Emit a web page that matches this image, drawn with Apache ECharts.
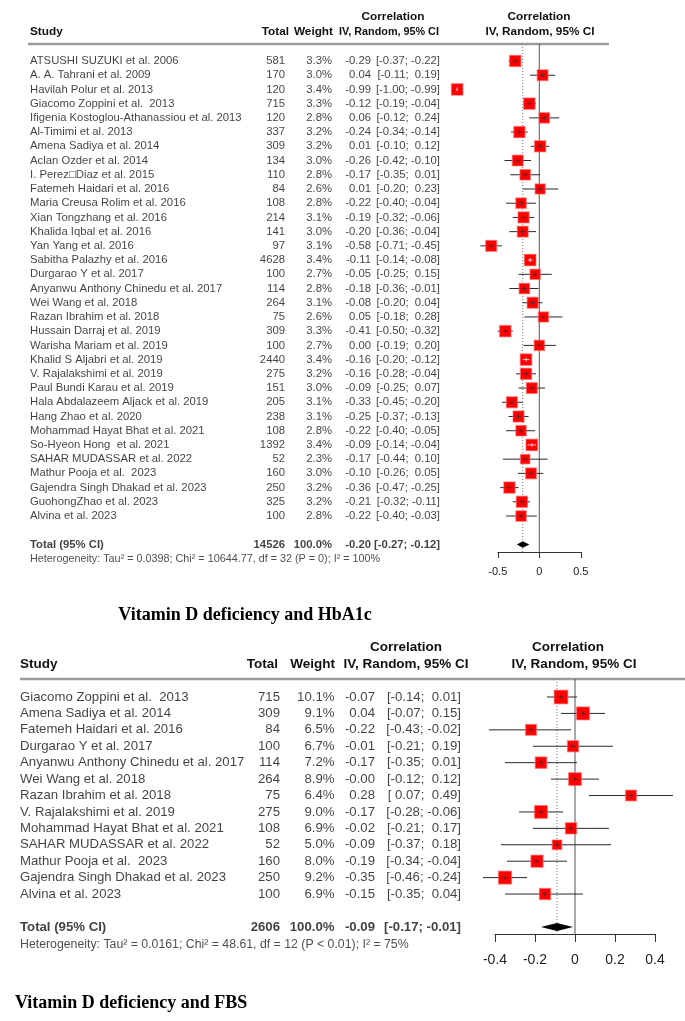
<!DOCTYPE html>
<html><head><meta charset="utf-8">
<script src="https://cdn.jsdelivr.net/npm/echarts@6/dist/echarts.min.js"></script>
<style>html,body{margin:0;padding:0;background:#fff}#c{width:685px;height:1021px}</style>
</head><body><div id="c"></div>
<script>
// ---------- Panel 1 data (Vitamin D deficiency and HbA1c) ----------
const hbStudies = ['ATSUSHI SUZUKI et al. 2006','A. A. Tahrani et al. 2009','Havilah Polur et al. 2013','Giacomo Zoppini et al.  2013','Ifigenia Kostoglou-Athanassiou et al. 2013','Al-Timimi et al. 2013','Amena Sadiya et al. 2014','Aclan Ozder et al. 2014','I. Perez\u25A1Diaz et al. 2015','Fatemeh Haidari et al. 2016','Maria Creusa Rolim et al. 2016','Xian Tongzhang et al. 2016','Khalida Iqbal et al. 2016','Yan Yang et al. 2016','Sabitha Palazhy et al. 2016','Durgarao Y et al. 2017','Anyanwu Anthony Chinedu et al. 2017','Wei Wang et al. 2018','Razan Ibrahim et al. 2018','Hussain Darraj et al. 2019','Warisha Mariam et al. 2019','Khalid S Aljabri et al. 2019','V. Rajalakshimi et al. 2019','Paul Bundi Karau et al. 2019','Hala Abdalazeem Aljack et al. 2019','Hang Zhao et al. 2020','Mohammad Hayat Bhat et al. 2021','So-Hyeon Hong  et al. 2021','SAHAR MUDASSAR et al. 2022','Mathur Pooja et al.  2023','Gajendra Singh Dhakad et al. 2023','GuohongZhao et al. 2023','Alvina et al. 2023'];
const hbTotal  = [581,170,120,715,120,337,309,134,110,84,108,214,141,97,4628,100,114,264,75,309,100,2440,275,151,205,238,108,1392,52,160,250,325,100];
const hbWeight = [3.3,3.0,3.4,3.3,2.8,3.2,3.2,3.0,2.8,2.6,2.8,3.1,3.0,3.1,3.4,2.7,2.8,3.1,2.6,3.3,2.7,3.4,3.2,3.0,3.1,3.1,2.8,3.4,2.3,3.0,3.2,3.2,2.8];
const hbEst    = [-0.29,0.04,-0.99,-0.12,0.06,-0.24,0.01,-0.26,-0.17,0.01,-0.22,-0.19,-0.20,-0.58,-0.11,-0.05,-0.18,-0.08,0.05,-0.41,0.00,-0.16,-0.16,-0.09,-0.33,-0.25,-0.22,-0.09,-0.17,-0.10,-0.36,-0.21,-0.22];
const hbLower  = [-0.37,-0.11,-1.00,-0.19,-0.12,-0.34,-0.10,-0.42,-0.35,-0.20,-0.40,-0.32,-0.36,-0.71,-0.14,-0.25,-0.36,-0.20,-0.18,-0.50,-0.19,-0.20,-0.28,-0.25,-0.45,-0.37,-0.40,-0.14,-0.44,-0.26,-0.47,-0.32,-0.40];
const hbUpper  = [-0.22,0.19,-0.99,-0.04,0.24,-0.14,0.12,-0.10,0.01,0.23,-0.04,-0.06,-0.04,-0.45,-0.08,0.15,-0.01,0.04,0.28,-0.32,0.20,-0.12,-0.04,0.07,-0.20,-0.13,-0.05,-0.04,0.10,0.05,-0.25,-0.11,-0.03];
const hbPooled = [-0.20,-0.27,-0.12];   // estimate, lower, upper
const hbPooledTotal = 14526;
const hbHetText = 'Heterogeneity: Tau\u00B2 = 0.0398; Chi\u00B2 = 10644.77, df = 32 (P = 0); I\u00B2 = 100%';
const hbTicks = [-0.5, 0, 0.5];
const hbCaption = 'Vitamin D deficiency and HbA1c';

// ---------- Panel 2 data (Vitamin D deficiency and FBS) ----------
const fbStudies = ['Giacomo Zoppini et al.  2013','Amena Sadiya et al. 2014','Fatemeh Haidari et al. 2016','Durgarao Y et al. 2017','Anyanwu Anthony Chinedu et al. 2017','Wei Wang et al. 2018','Razan Ibrahim et al. 2018','V. Rajalakshimi et al. 2019','Mohammad Hayat Bhat et al. 2021','SAHAR MUDASSAR et al. 2022','Mathur Pooja et al.  2023','Gajendra Singh Dhakad et al. 2023','Alvina et al. 2023'];
const fbTotal  = [715,309,84,100,114,264,75,275,108,52,160,250,100];
const fbWeight = [10.1,9.1,6.5,6.7,7.2,8.9,6.4,9.0,6.9,5.0,8.0,9.2,6.9];
const fbEst    = [-0.07,0.04,-0.22,-0.01,-0.17,-0.00,0.28,-0.17,-0.02,-0.09,-0.19,-0.35,-0.15];
const fbLower  = [-0.14,-0.07,-0.43,-0.21,-0.35,-0.12,0.07,-0.28,-0.21,-0.37,-0.34,-0.46,-0.35];
const fbUpper  = [0.01,0.15,-0.02,0.19,0.01,0.12,0.49,-0.06,0.17,0.18,-0.04,-0.24,0.04];
const fbPooled = [-0.09,-0.17,-0.01];
const fbPooledTotal = 2606;
const fbHetText = 'Heterogeneity: Tau\u00B2 = 0.0161; Chi\u00B2 = 48.61, df = 12 (P < 0.01); I\u00B2 = 75%';
const fbTicks = [-0.4, -0.2, 0, 0.2, 0.4];
const fbCaption = 'Vitamin D deficiency and FBS';

// ---------- helpers ----------
const SANS = '"Liberation Sans", Arial, sans-serif';
const SERIF = '"Liberation Serif", "Times New Roman", serif';
function f2(v){ return ((v < 0 || Object.is(v, -0)) ? '-' : '') + Math.abs(v).toFixed(2); }
function pad(v){ return ((v < 0 || Object.is(v, -0)) ? '' : ' ') + f2(v); }
function ciText(lo, hi){ return '[' + pad(lo) + '; ' + pad(hi) + ']'; }

// layout of the two panels
const L = [
  { y0: 61, dy: 14.22, top: 44, bottom: 552, plotLeft: 497.8, plotWidth: 83, lineLeft: 28, lineRight: 609,
    cStudy: 30, cTotal: 285, cWeight: 332, cEst: 371, cCI: 440, fs: 11.3, hfs: 11.8, midFs: 10.8, hetFs: 10.8, totalRow: 34, hetRow: 35,
    boxK: 6.3, diamondH: 3.2, tickLen: 6, tickFs: 11, tickMargin: 14,
    hdr: { y1: 17, y2: 32, total: 289, weight: 333, mid1: 393, mid2: 389, right1: 539, right2: 540 } },
  { y0: 697, dy: 16.42, top: 679, bottom: 934, plotLeft: 495, plotWidth: 160, lineLeft: 20, lineRight: 685,
    cStudy: 20, cTotal: 280, cWeight: 334.5, cEst: 375, cCI: 461, fs: 13.2, hfs: 13.5, midFs: 13.5, hetFs: 12.3, totalRow: 14, hetRow: 15.05,
    boxK: 4.3, diamondH: 4, tickLen: 8, tickFs: 14, tickMargin: 19,
    hdr: { y1: 647, y2: 664, total: 278, weight: 335, mid1: 406, mid2: 406, right1: 568, right2: 574 } }
];
L.forEach(p => { p.yMin = (p.top - p.y0) / p.dy; p.yMax = (p.bottom - p.y0) / p.dy; });

const panels = [
  { studies: hbStudies, total: hbTotal, weight: hbWeight, est: hbEst, lo: hbLower, hi: hbUpper, pooled: hbPooled, pooledTotal: hbPooledTotal, het: hbHetText, ticks: hbTicks },
  { studies: fbStudies, total: fbTotal, weight: fbWeight, est: fbEst, lo: fbLower, hi: fbUpper, pooled: fbPooled, pooledTotal: fbPooledTotal, het: fbHetText, ticks: fbTicks }
];

const grid = [], xAxis = [], yAxis = [], series = [], graphic = [];

function textSeries(ai, items, style) {
  return {
    type: 'scatter', xAxisIndex: ai, yAxisIndex: ai, symbolSize: 0.1, silent: true, clip: false, z: 5,
    itemStyle: { color: 'transparent' },
    data: items.map(d => ({ name: d[2], value: [d[0], d[1]] })),
    label: Object.assign({ show: true, position: 'inside', formatter: '{b}', verticalAlign: 'middle', color: '#111', fontFamily: SANS }, style)
  };
}

function forestRender(k) {
  return function (params, api) {
    const est = api.value(0), lo = api.value(1), hi = api.value(2), row = api.value(3), w = api.value(4);
    const c = api.coord([est, row]), a = api.coord([lo, row]), b = api.coord([hi, row]);
    const s = k * Math.sqrt(w);
    const inside = (b[0] - a[0]) < s;
    const ch = [];
    if (!inside) ch.push({ type: 'line', shape: { x1: a[0], y1: c[1], x2: b[0], y2: c[1] }, style: { stroke: '#2a2a2a', lineWidth: 1 } });
    ch.push({ type: 'rect', shape: { x: c[0] - s / 2, y: c[1] - s / 2, width: s, height: s }, style: { fill: '#ff0000', stroke: 'rgba(255,110,110,0.55)', lineWidth: 1.2 } });
    const mc = inside ? '#ffffff' : '#333';
    const hx1 = inside ? a[0] : c[0] - 2.5, hx2 = inside ? b[0] : c[0] + 2.5;
    ch.push({ type: 'line', shape: { x1: hx1, y1: c[1], x2: hx2, y2: c[1] }, style: { stroke: mc, lineWidth: 0.8 } });
    ch.push({ type: 'line', shape: { x1: c[0], y1: c[1] - 2, x2: c[0], y2: c[1] + 2 }, style: { stroke: mc, lineWidth: 0.8 } });
    return { type: 'group', children: ch };
  };
}

panels.forEach((P, pi) => {
  const p = L[pi];
  const ti = pi * 2, fi = pi * 2 + 1;   // text grid index, forest grid index
  grid.push({ left: 0, width: 685, top: p.top, height: p.bottom - p.top });
  xAxis.push({ type: 'value', gridIndex: ti, min: 0, max: 685, show: false });
  yAxis.push({ type: 'value', gridIndex: ti, min: p.yMin, max: p.yMax, inverse: true, show: false });
  grid.push({ left: p.plotLeft, width: p.plotWidth, top: p.top, height: p.bottom - p.top });
  xAxis.push({ type: 'value', gridIndex: fi, min: P.ticks[0], max: P.ticks[P.ticks.length - 1], interval: P.ticks[1] - P.ticks[0],
    axisLine: { show: true, onZero: false, lineStyle: { color: '#333', width: 1 } },
    axisTick: { show: true, inside: false, length: p.tickLen, lineStyle: { color: '#333', width: 1 } },
    axisLabel: { show: true, margin: p.tickMargin, fontSize: p.tickFs, color: '#222', fontFamily: SANS },
    splitLine: { show: false } });
  yAxis.push({ type: 'value', gridIndex: fi, min: p.yMin, max: p.yMax, inverse: true, show: false });

  const rows = P.studies.map((s, i) => i);
  series.push(textSeries(ti, rows.map(i => [p.cStudy, i, P.studies[i]]), { align: 'left', fontSize: p.fs }));
  series.push(textSeries(ti, rows.map(i => [p.cTotal, i, String(P.total[i])]), { align: 'right', fontSize: p.fs }));
  series.push(textSeries(ti, rows.map(i => [p.cWeight, i, P.weight[i].toFixed(1) + '%']), { align: 'right', fontSize: p.fs }));
  series.push(textSeries(ti, rows.map(i => [p.cEst, i, f2(P.est[i])]), { align: 'right', fontSize: p.fs }));
  series.push(textSeries(ti, rows.map(i => [p.cCI, i, ciText(P.lo[i], P.hi[i])]), { align: 'right', fontSize: p.fs }));
  const tr = p.totalRow;
  series.push(textSeries(ti, [[p.cStudy, tr, 'Total (95% CI)']], { align: 'left', fontSize: p.fs, fontWeight: 'bold' }));
  series.push(textSeries(ti, [[p.cTotal, tr, String(P.pooledTotal)], [p.cWeight, tr, '100.0%'], [p.cEst, tr, f2(P.pooled[0])], [p.cCI, tr, ciText(P.pooled[1], P.pooled[2])]], { align: 'right', fontSize: p.fs, fontWeight: 'bold' }));
  series.push(textSeries(ti, [[p.cStudy, p.hetRow, P.het]], { align: 'left', fontSize: p.hetFs, color: '#222' }));

  series.push({ type: 'line', xAxisIndex: fi, yAxisIndex: fi, symbol: 'none', silent: true, z: 1,
    data: [[0, p.yMin], [0, p.yMax]], lineStyle: { color: '#555', width: 1 } });
  series.push({ type: 'line', xAxisIndex: fi, yAxisIndex: fi, symbol: 'none', silent: true, z: 1,
    data: [[P.pooled[0], p.yMin], [P.pooled[0], p.yMax]], lineStyle: { color: '#777', width: 1, type: [1, 2] } });
  series.push({ type: 'custom', xAxisIndex: fi, yAxisIndex: fi, clip: false, silent: true, z: 3,
    renderItem: forestRender(p.boxK),
    encode: { x: [0, 1, 2], y: 3 },
    data: rows.map(i => [P.est[i], P.lo[i], P.hi[i], i, P.weight[i]]) });
  const dh = p.diamondH;
  series.push({ type: 'custom', xAxisIndex: fi, yAxisIndex: fi, clip: false, silent: true, z: 3,
    encode: { x: [0, 1, 2], y: 3 },
    renderItem: function (params, api) {
      const c = api.coord([api.value(0), api.value(3)]), a = api.coord([api.value(1), api.value(3)]), b = api.coord([api.value(2), api.value(3)]);
      return { type: 'polygon', shape: { points: [[a[0], c[1]], [c[0], c[1] - dh], [b[0], c[1]], [c[0], c[1] + dh]] }, style: { fill: '#000' } };
    },
    data: [[P.pooled[0], P.pooled[1], P.pooled[2], tr]] });

  const h = p.hdr;
  const hs = (t, x, y, align, fs) => ({ type: 'text', x: x, y: y, silent: true,
    style: { text: t, align: align, verticalAlign: 'middle', font: 'bold ' + (fs || p.hfs) + 'px ' + SANS, fill: '#111' } });
  graphic.push(hs('Study', p.cStudy, h.y2, 'left'));
  graphic.push(hs('Total', h.total, h.y2, 'right'));
  graphic.push(hs('Weight', h.weight, h.y2, 'right'));
  graphic.push(hs('Correlation', h.mid1, h.y1, 'center'));
  graphic.push(hs('IV, Random, 95% CI', h.mid2, h.y2, 'center', p.midFs));
  graphic.push(hs('Correlation', h.right1, h.y1, 'center'));
  graphic.push(hs('IV, Random, 95% CI', h.right2, h.y2, 'center'));
  graphic.push({ type: 'line', silent: true, shape: { x1: p.lineLeft, y1: p.top, x2: p.lineRight, y2: p.top },
    style: { stroke: '#9c9c9c', lineWidth: 2.5 } });
});

graphic.push({ type: 'text', x: 245, y: 615, silent: true,
  style: { text: hbCaption, align: 'center', verticalAlign: 'middle', font: 'bold 18px ' + SERIF, fill: '#000' } });
graphic.push({ type: 'text', x: 15, y: 1003, silent: true,
  style: { text: fbCaption, align: 'left', verticalAlign: 'middle', font: 'bold 18px ' + SERIF, fill: '#000' } });

const chart = echarts.init(document.getElementById('c'), null, { renderer: 'canvas' });
chart.setOption({ animation: false, backgroundColor: '#fff', grid, xAxis, yAxis, series, graphic });
</script></body></html>
